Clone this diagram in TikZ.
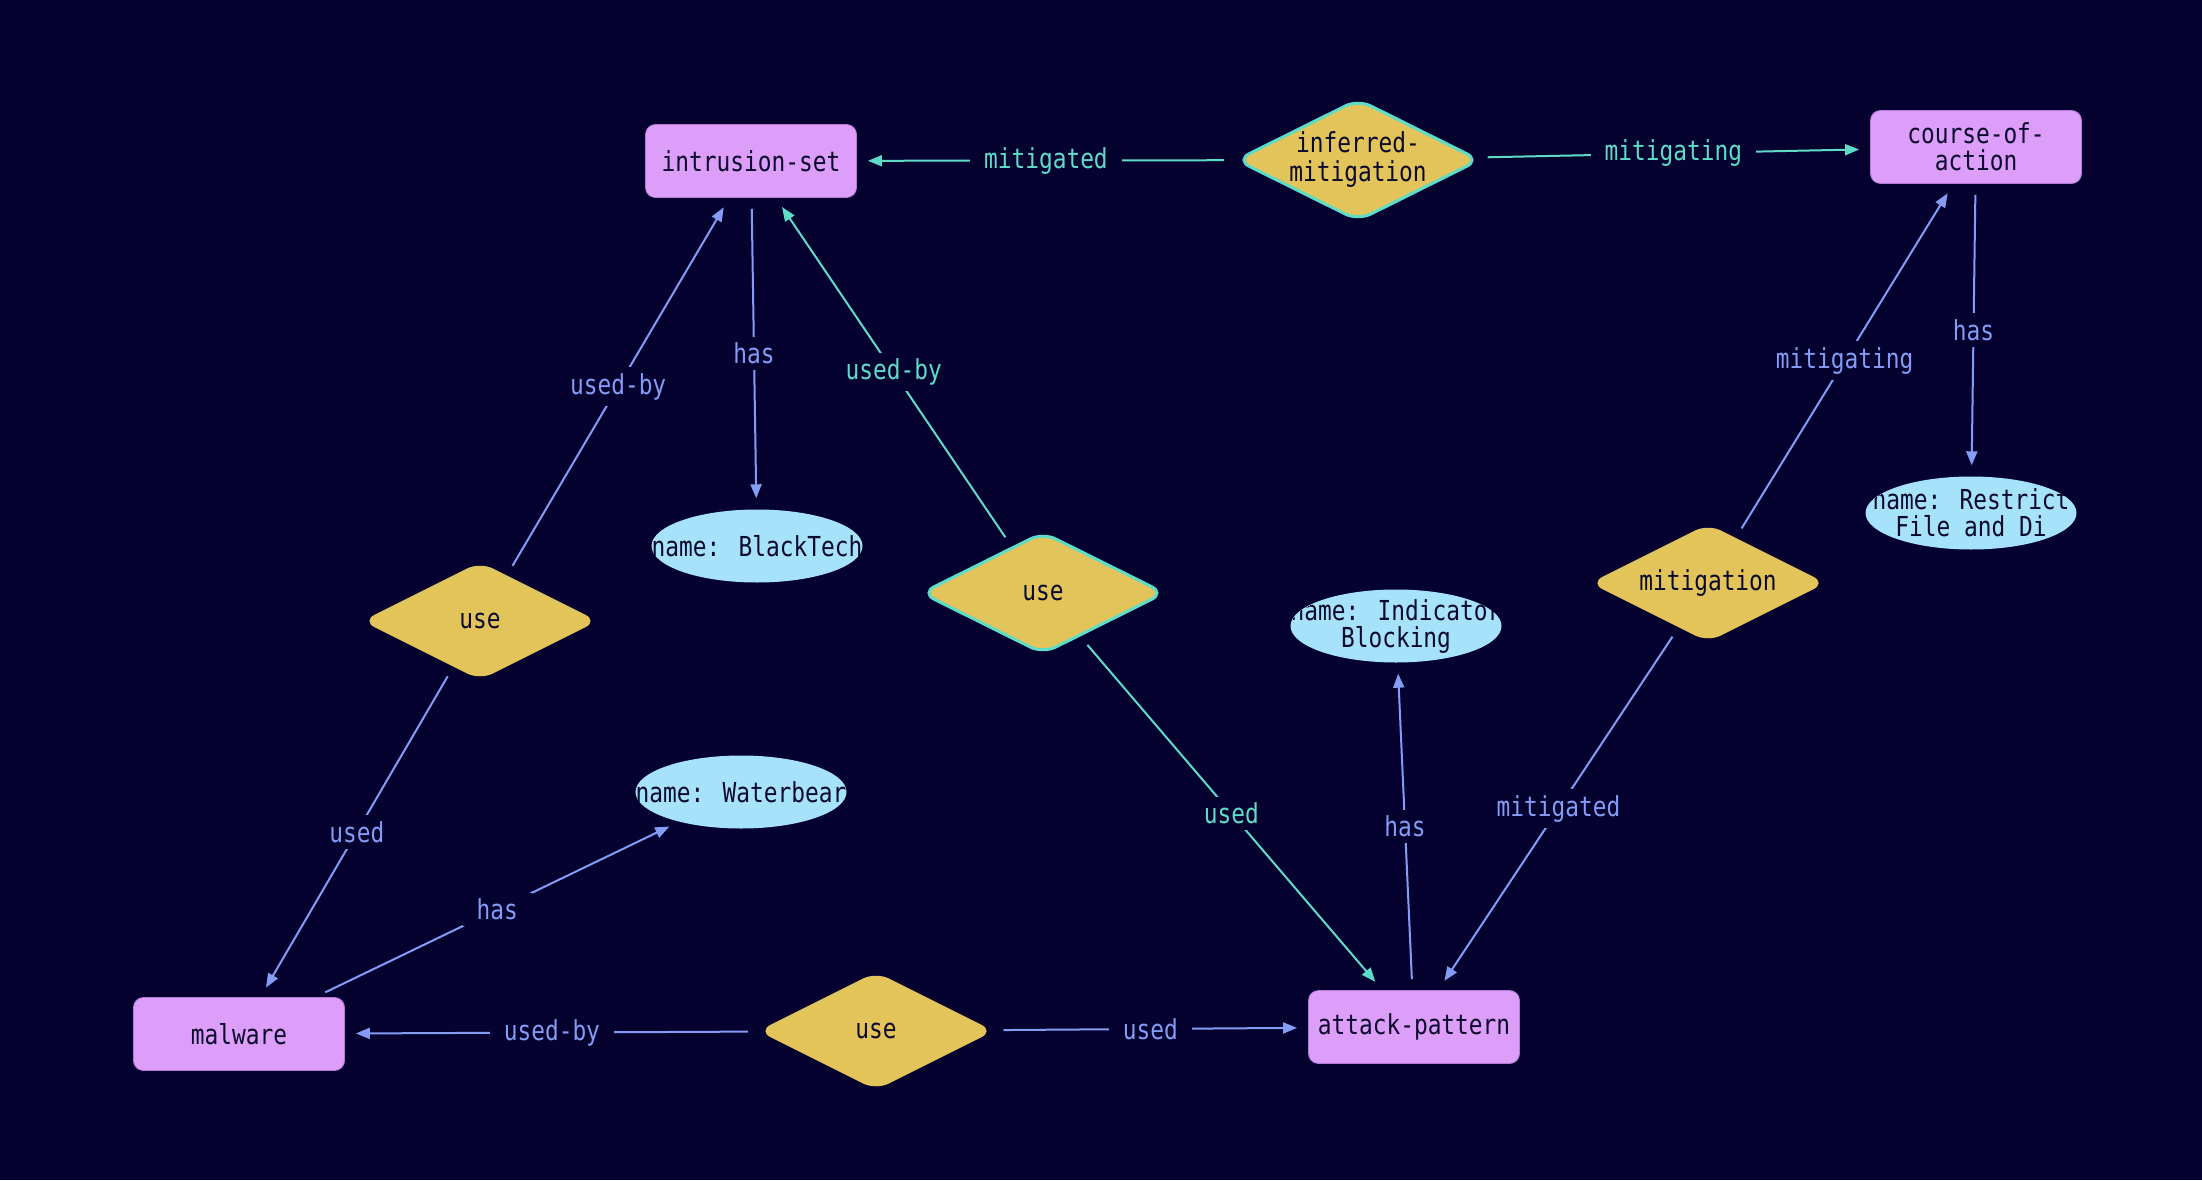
\documentclass[tikz,border=0pt]{standalone}
\usepackage{fontspec}
\newfontfamily\fnt[FakeStretch=0.83]{DejaVu Sans Mono}
\usetikzlibrary{shapes.geometric,arrows.meta}
\definecolor{bg}{HTML}{050230}
\definecolor{boxc}{HTML}{DC9EF8}
\definecolor{boxd}{HTML}{B57AD8}
\definecolor{ellc}{HTML}{A6E3FA}
\definecolor{dia}{HTML}{E3C45A}
\definecolor{bluec}{HTML}{849CF4}
\definecolor{cyanc}{HTML}{5FDCC8}
\definecolor{txt}{HTML}{0C0A2C}
\newcommand\fsz{\fnt\fontsize{27.5}{27}\selectfont}
\newcommand\fszd{\fnt\fontsize{27.5}{29}\selectfont}
\tikzset{
 ent/.style={rectangle, rounded corners=10pt, fill=boxc, draw=boxd, line width=0.8pt, minimum width=211pt, minimum height=73pt, inner sep=0pt, font=\fsz, text=txt, align=center},
 attr/.style={ellipse, fill=ellc, minimum width=211pt, minimum height=73pt, inner sep=0pt},
 atxt/.style={font=\fsz, text=txt, align=center, inner sep=0pt},
 rel/.style={diamond, aspect=2, rounded corners=14pt, fill=dia, minimum width=236pt, minimum height=118pt, inner sep=0pt, font=\fsz, text=txt, align=center},
 relc/.style={rel, draw=cyanc, line width=3pt, minimum width=244pt, minimum height=122pt},
 eb/.style={draw=bluec, line width=2pt, -{Triangle[length=14pt,width=11pt]}, shorten >=11pt, shorten <=11pt},
 ec/.style={eb, draw=cyanc},
 lb/.style={fill=bg, text=bluec, font=\fsz, inner xsep=14pt, inner ysep=6pt},
 lc/.style={lb, text=cyanc},
}
\begin{document}
\begin{tikzpicture}[x=1pt,y=-1pt]
\fill[bg] (0,0) rectangle (2202,1180);
\useasboundingbox (0,0) rectangle (2202,1180);
% entity nodes
\node[ent] (is) at (751,161) {intrusion-set};
\node[ent] (coa) at (1976,147) {course-of-\\action};
\node[ent] (mal) at (239,1034) {malware};
\node[ent] (ap) at (1414,1027) {attack-pattern};
% relation nodes
\node[relc, label={[atxt, font=\fszd]center:inferred-\\mitigation}] (inf) at (1358,160) {};
\node[rel] (useL) at (480,621) {use};
\node[relc] (useM) at (1043,593) {use};
\node[rel] (mit) at (1708,583) {mitigation};
\node[rel] (useB) at (876,1031) {use};
% attribute nodes
\node[attr, path picture={\node[atxt] at (path picture bounding box.center) {name: BlackTech};}] (bt) at (757,546) {};
\node[attr, path picture={\node[atxt] at (path picture bounding box.center) {name: Indicator\\Blocking};}] (ind) at (1396,626) {};
\node[attr, path picture={\node[atxt] at (path picture bounding box.center) {name: Restrict\\File and Di};}] (rst) at (1971,513) {};
\node[attr, path picture={\node[atxt] at (path picture bounding box.center) {name: Waterbear};}] (wb) at (741,792) {};
% edges
\draw[ec] (inf) -- node[lc] {mitigated} (is);
\draw[ec] (inf) -- node[lc] {mitigating} (coa);
\draw[eb] (is) -- node[lb] {has} (bt);
\draw[eb] (useL) -- node[lb] {used-by} (is);
\draw[ec] (useM) -- node[lc] {used-by} (is);
\draw[eb] (useL) -- node[lb] {used} (mal);
\draw[eb] (mal) -- node[lb] {has} (wb);
\draw[eb] (useB) -- node[lb] {used-by} (mal);
\draw[eb] (useB) -- node[lb] {used} (ap);
\draw[ec] (useM) -- node[lc] {used} (ap);
\draw[eb] (ap) -- node[lb] {has} (ind);
\draw[eb] (mit) -- node[lb] {mitigated} (ap);
\draw[eb] (mit) -- node[lb] {mitigating} (coa);
\draw[eb] (coa) -- node[lb] {has} (rst);
\end{tikzpicture}
\end{document}
